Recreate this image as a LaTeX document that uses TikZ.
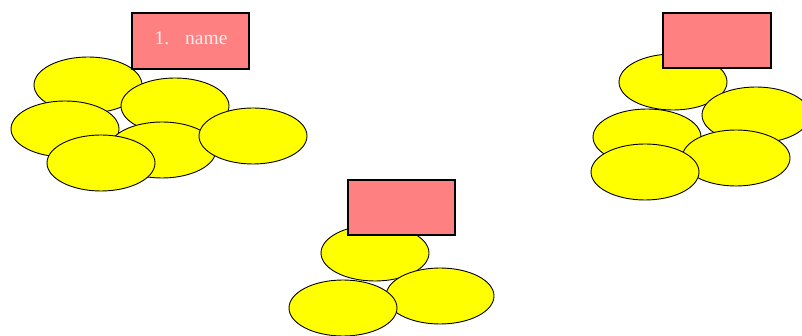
\documentclass[tikz,border=0pt]{standalone}
\usepackage{fontspec}
\setmainfont{Liberation Serif}
\usetikzlibrary{shapes.geometric}
\definecolor{boxpink}{RGB}{255,128,128}
\definecolor{blobyellow}{RGB}{255,255,0}
\definecolor{txtwhite}{RGB}{255,238,238}
\tikzset{
  blob/.style={ellipse, draw=black, line width=0.9pt, fill=blobyellow, minimum width=108pt, minimum height=56pt, inner sep=0pt},
  tag/.style={draw=black, line width=2pt, fill=boxpink, minimum width=117pt, minimum height=56pt, inner sep=0pt}
}
\begin{document}
\begin{tikzpicture}[x=1pt,y=-1pt]
\useasboundingbox (0,0) rectangle (802,336);
% group 1
\node[blob] (a1) at (88,85) {};
\node[blob] (a2) at (175,106) {};
\node[blob] (a3) at (65,129) {};
\node[blob] (a4) at (162,150) {};
\node[blob] (a5) at (253,136) {};
\node[blob] (a6) at (101,163) {};
\node[tag, minimum width=117pt, minimum height=56pt] (t1) at (190.5,41.5) {};
\node[text=txtwhite, font=\fontsize{19.5}{22}\selectfont] (l1) at (191,38.5) {1.\hspace{16pt}name};
% group 2
\node[blob] (b1) at (375,253) {};
\node[blob] (b3) at (440,296) {};
\node[blob] (b2) at (343,308) {};
\node[tag, minimum width=107pt, minimum height=55pt] (t2) at (401.5,207.5) {};
% group 3
\node[blob] (c1) at (673,82) {};
\node[blob] (c2) at (756,115) {};
\node[blob] (c3) at (647,137) {};
\node[blob] (c4) at (736,158) {};
\node[blob] (c5) at (645,172) {};
\node[tag, minimum width=108pt, minimum height=55pt] (t3) at (717,40.5) {};
\end{tikzpicture}
\end{document}
